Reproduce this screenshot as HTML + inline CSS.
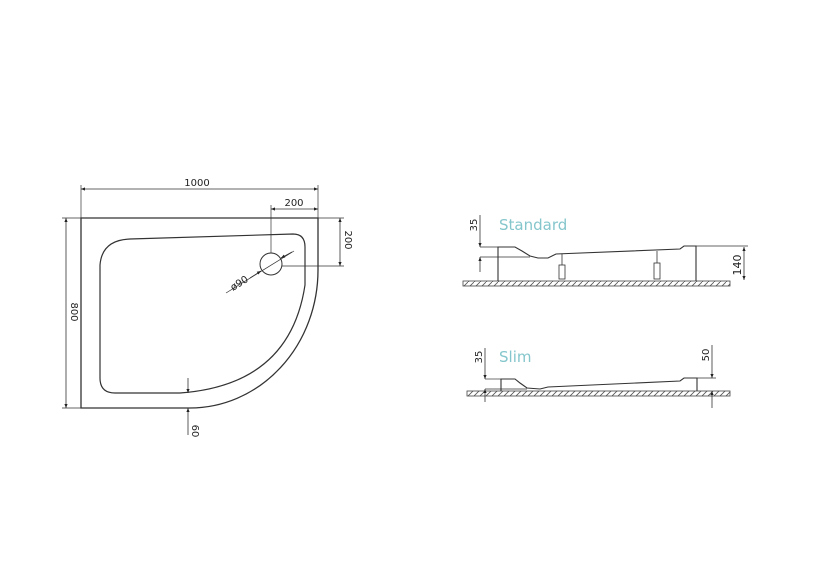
<!DOCTYPE html>
<html><head><style>body{margin:0;background:#fff}svg{display:block}text{font-family:"DejaVu Sans","Liberation Sans",sans-serif}</style></head><body>
<svg width="820" height="561" viewBox="0 0 820 561" xmlns="http://www.w3.org/2000/svg">
<defs>
<marker id="a" viewBox="0 0 10 10" refX="10" refY="5" markerWidth="7" markerHeight="5" orient="auto-start-reverse"><path d="M0,1 L10,5 L0,9 z" fill="#222"/></marker>
<pattern id="h" width="6" height="6" patternUnits="userSpaceOnUse"><path d="M0,6 L6,0" stroke="#555" stroke-width="0.8"/></pattern>
</defs>
<g fill="none" stroke="#333" stroke-width="1">
<!-- plan -->
<path d="M81,218 L318,218 L318,270 A128,138 0 0 1 190,408 L81,408 Z" stroke-width="1.3"/>
<path d="M130,239 L293,234 Q305,234 305,247 L305,285 Q290,385 180,393 L115,393 Q100,393 100,378 L100,265 Q102,240 130,239 Z" stroke-width="1.2"/>
<circle cx="271" cy="264" r="11"/>
<!-- 1000 -->
<line x1="81" y1="189" x2="318" y2="189" marker-start="url(#a)" marker-end="url(#a)" stroke-width="0.8"/>
<line x1="81" y1="185" x2="81" y2="218" stroke-width="0.7"/>
<line x1="318" y1="185" x2="318" y2="218" stroke-width="0.7"/>
<!-- 200 top -->
<line x1="271" y1="209" x2="318" y2="209" marker-start="url(#a)" marker-end="url(#a)" stroke-width="0.8"/>
<line x1="271" y1="205" x2="271" y2="253" stroke-width="0.7"/>
<!-- 200 right -->
<line x1="340" y1="218" x2="340" y2="266" marker-start="url(#a)" marker-end="url(#a)" stroke-width="0.8"/>
<line x1="318" y1="218" x2="344" y2="218" stroke-width="0.7"/>
<line x1="282" y1="266" x2="344" y2="266" stroke-width="0.7"/>
<!-- 800 -->
<line x1="66" y1="218" x2="66" y2="408" marker-start="url(#a)" marker-end="url(#a)" stroke-width="0.8"/>
<line x1="62" y1="218" x2="81" y2="218" stroke-width="0.7"/>
<line x1="62" y1="408" x2="81" y2="408" stroke-width="0.7"/>
<!-- 60 -->
<line x1="188" y1="378" x2="188" y2="393" marker-end="url(#a)" stroke-width="0.8"/>
<line x1="188" y1="435" x2="188" y2="408" marker-end="url(#a)" stroke-width="0.8"/>
<!-- ø90 -->
<line x1="226" y1="293" x2="294" y2="251" stroke-width="0.7"/>
<line x1="250" y1="278" x2="261" y2="271" marker-end="url(#a)" stroke-width="0.8"/>
<line x1="292" y1="252" x2="281" y2="258" marker-end="url(#a)" stroke-width="0.8"/>

<!-- Standard -->
<rect x="463" y="281" width="267" height="5" fill="url(#h)" stroke="#444" stroke-width="0.8"/>
<path d="M498,281 L498,247 L515,247 L522,251 L530,256 L538,258 L548,258 L556,254 L680,249 L684,246 L696,246 L696,281" stroke-width="1.1"/>
<line x1="696" y1="246" x2="748" y2="246" stroke-width="0.7"/>
<line x1="744" y1="247" x2="744" y2="280" marker-start="url(#a)" marker-end="url(#a)" stroke-width="0.8"/>
<line x1="480" y1="247" x2="498" y2="247" stroke-width="0.7"/>
<line x1="480" y1="257" x2="530" y2="257" stroke-width="0.7"/>
<line x1="480" y1="215" x2="480" y2="247" marker-end="url(#a)" stroke-width="0.8"/>
<line x1="480" y1="272" x2="480" y2="257" marker-end="url(#a)" stroke-width="0.8"/>
<g stroke-width="0.8"><line x1="562" y1="254" x2="562" y2="265"/><rect x="559" y="265" width="6" height="14"/><line x1="657" y1="251" x2="657" y2="263"/><rect x="654" y="263" width="6" height="16"/></g>

<!-- Slim -->
<rect x="467" y="391" width="263" height="5" fill="url(#h)" stroke="#444" stroke-width="0.8"/>
<path d="M501,391 L501,379 L515,379 L520,383 L527,388 L540,389 L548,387 L680,381 L684,378 L697,378 L697,391" stroke-width="1.1"/>
<line x1="485" y1="379" x2="501" y2="379" stroke-width="0.7"/>
<line x1="485" y1="389" x2="527" y2="389" stroke-width="0.7"/>
<line x1="485" y1="348" x2="485" y2="379" marker-end="url(#a)" stroke-width="0.8"/>
<line x1="485" y1="402" x2="485" y2="389" marker-end="url(#a)" stroke-width="0.8"/>
<line x1="697" y1="378" x2="716" y2="378" stroke-width="0.7"/>
<line x1="712" y1="345" x2="712" y2="378" marker-end="url(#a)" stroke-width="0.8"/>
<line x1="712" y1="408" x2="712" y2="391" marker-end="url(#a)" stroke-width="0.8"/>
</g>
<g fill="#222" font-size="10">
<text x="197" y="186" text-anchor="middle">1000</text>
<text x="294" y="206" text-anchor="middle">200</text>
<text transform="translate(345,240) rotate(90)" text-anchor="middle">200</text>
<text transform="translate(71,312) rotate(90)" text-anchor="middle">800</text>
<text transform="translate(192,431) rotate(90)" text-anchor="middle">60</text>
<text transform="translate(233,291) rotate(-32)">ø90</text>
<text transform="translate(477,225) rotate(-90)" text-anchor="middle">35</text>
<text transform="translate(741,265) rotate(-90)" text-anchor="middle" font-size="11">140</text>
<text transform="translate(482,357) rotate(-90)" text-anchor="middle">35</text>
<text transform="translate(709,355) rotate(-90)" text-anchor="middle">50</text>
</g>
<text x="499" y="230" font-size="15" fill="#84c6cc">Standard</text>
<text x="499" y="362" font-size="15" fill="#84c6cc">Slim</text>
</svg>
</body></html>
